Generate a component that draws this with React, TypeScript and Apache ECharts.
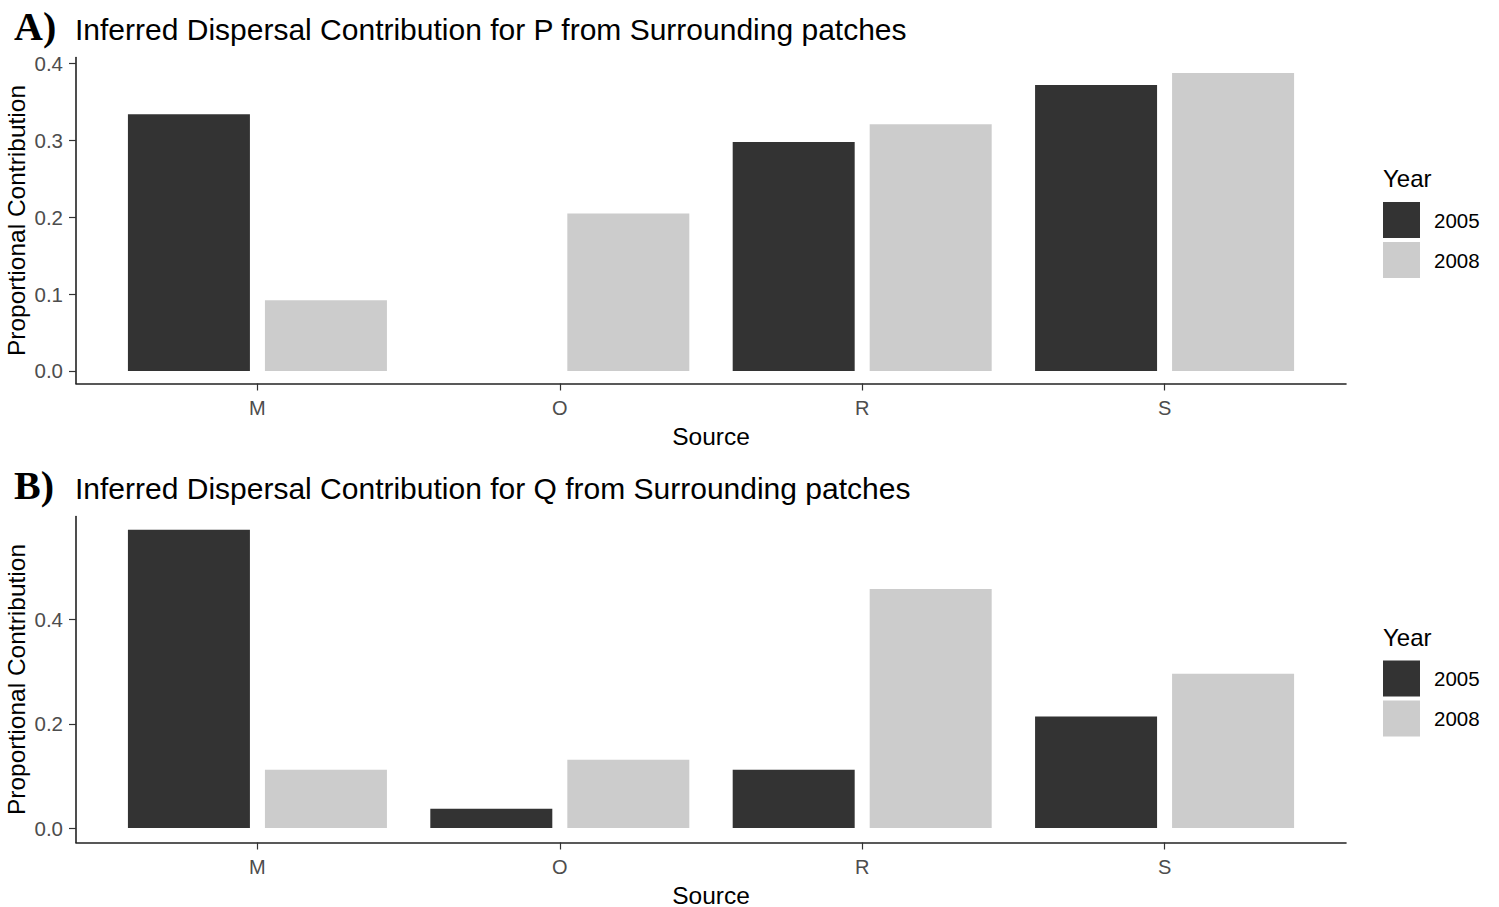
import React, { useEffect, useRef } from "react";
import * as echarts from "echarts";

// ---- data ----
const sources = ["M", "O", "R", "S"];
const years = ["2005", "2008"];
const yearColors = ["#333333", "#CCCCCC"];

// Panel A: P
const pYear2005 = [0.334, 0, 0.298, 0.372];
const pYear2008 = [0.092, 0.205, 0.321, 0.3875];
const pTicks = [0, 0.1, 0.2, 0.3, 0.4];
const pRange = [-0.0163, 0.4078];

// Panel B: Q
const qYear2005 = [0.5726, 0.037, 0.112, 0.214];
const qYear2008 = [0.112, 0.131, 0.459, 0.296];
const qTicks = [0, 0.2, 0.4];
const qRange = [-0.0276, 0.598];

const panelLabels = ["A)", "B)"];
const panelTitles = [
  "Inferred Dispersal Contribution for P from Surrounding patches",
  "Inferred Dispersal Contribution for Q from Surrounding patches",
];
const xTitle = "Source";
const yTitle = "Proportional Contribution";
const legendTitle = "Year";

const SANS = "Liberation Sans";
const SERIF = "Liberation Serif";

export default function App() {
  const ref = useRef<HTMLDivElement>(null);

  useEffect(() => {
    if (!ref.current) return;
    const chart = echarts.init(ref.current, undefined, { renderer: "svg" });

    const panels = [
      { s05: pYear2005, s08: pYear2008, ticks: pTicks, range: pRange, top: 57.5 },
      { s05: qYear2005, s08: qYear2008, ticks: qTicks, range: qRange, top: 516.5 },
    ];
    const offsets = [0, 459];

    const grids = panels.map((p) => ({
      left: 76,
      width: 1270,
      top: p.top,
      height: 326,
      containLabel: false,
      outerBoundsMode: "none",
    }));

    const xAxes = panels.map((_, i) => ({
      type: "value",
      gridIndex: i,
      min: -0.6,
      max: 3.6,
      name: xTitle,
      nameLocation: "middle",
      nameGap: 40,
      nameMoveOverlap: false,
      nameTextStyle: { fontFamily: SANS, fontSize: 24.5, color: "#000" },
      splitLine: { show: false },
      axisLine: { show: true, onZero: false, lineStyle: { color: "#222", width: 1.6 } },
      axisTick: {
        show: true,
        length: 7,
        customValues: sources.map((_, k) => k),
        lineStyle: { color: "#333", width: 1.2 },
      },
      axisLabel: {
        customValues: sources.map((_, k) => k),
        formatter: (v: number) => sources[Math.round(v)] ?? "",
        margin: 14,
        fontFamily: SANS,
        fontSize: 20,
        color: "#4D4D4D",
      },
    }));

    const yAxes = panels.map((p, i) => ({
      type: "value",
      gridIndex: i,
      min: p.range[0],
      max: p.range[1],
      name: yTitle,
      nameLocation: "middle",
      nameGap: 47,
      nameMoveOverlap: false,
      nameTextStyle: { fontFamily: SANS, fontSize: 24.5, color: "#000" },
      splitLine: { show: false },
      axisLine: { show: true, onZero: false, lineStyle: { color: "#222", width: 1.6 } },
      axisTick: {
        show: true,
        length: 7,
        customValues: p.ticks,
        lineStyle: { color: "#333", width: 1.2 },
      },
      axisLabel: {
        customValues: p.ticks,
        formatter: (v: number) => v.toFixed(1),
        margin: 13,
        fontFamily: SANS,
        fontSize: 20.5,
        color: "#4D4D4D",
      },
    }));

    const series: any[] = [];
    panels.forEach((p, i) => {
      [p.s05, p.s08].forEach((vals, y) => {
        series.push({
          type: "bar",
          name: years[y],
          xAxisIndex: i,
          yAxisIndex: i,
          barWidth: 122,
          barGap: "12.3%",
          itemStyle: { color: yearColors[y] },
          data: vals.map((v, k) => [k, v]),
        });
      });
    });

    const legends = panels.map((_, i) => ({
      data: years,
      orient: "vertical",
      left: 1383,
      top: 202 + offsets[i] + (i === 1 ? -0.5 : 0),
      padding: 0,
      itemWidth: 37,
      itemHeight: 36,
      itemGap: 4,
      icon: "rect",
      selectedMode: false,
      textStyle: { fontFamily: SANS, fontSize: 20.5, color: "#000", padding: [4, 0, 0, 9] },
    }));

    const graphics: any[] = [];
    panels.forEach((_, i) => {
      graphics.push({
        type: "text",
        x: 14,
        y: 26.3 + offsets[i],
        style: {
          text: panelLabels[i],
          font: `bold 40px "${SERIF}"`,
          fill: "#000",
          verticalAlign: "middle",
          align: "left",
        },
      });
      graphics.push({
        type: "text",
        x: 75,
        y: 29.5 + offsets[i],
        style: {
          text: panelTitles[i],
          font: `30px "${SANS}"`,
          fill: "#000",
          verticalAlign: "middle",
          align: "left",
        },
      });
      graphics.push({
        type: "text",
        x: 1383,
        y: 178 + offsets[i],
        style: {
          text: legendTitle,
          font: `24px "${SANS}"`,
          fill: "#000",
          verticalAlign: "middle",
          align: "left",
        },
      });
    });

    chart.setOption({
      animation: false,
      backgroundColor: "#fff",
      textStyle: { fontFamily: SANS },
      grid: grids,
      xAxis: xAxes,
      yAxis: yAxes,
      legend: legends,
      series,
      graphic: graphics,
    });

    return () => chart.dispose();
  }, []);

  return (
    <div
      ref={ref}
      style={{ position: "absolute", left: 0, top: 0, width: 1499, height: 907 }}
    />
  );
}
